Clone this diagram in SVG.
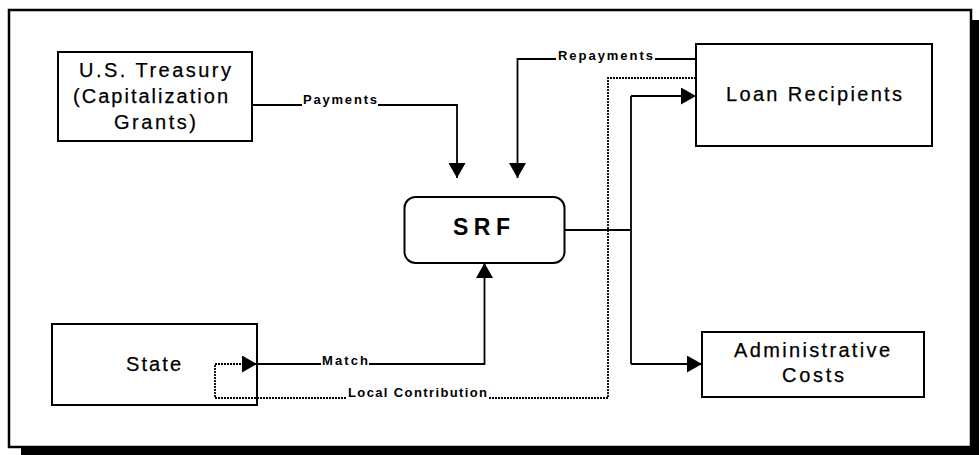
<svg xmlns="http://www.w3.org/2000/svg" width="979" height="455" viewBox="0 0 979 455">
  <style>
    .box { fill: #fff; stroke: #000; stroke-width: 2; }
    .node { font-family: "Liberation Sans", Arial, sans-serif; font-size: 20px; fill: #000; stroke: #000; stroke-width: 0.25; }
    .srf { font-family: "Liberation Sans", Arial, sans-serif; font-size: 23px; font-weight: bold; fill: #000; }
    .lbl { font-family: "Liberation Sans", Arial, sans-serif; font-size: 13px; font-weight: bold; fill: #000; }
    .conn { fill: none; stroke: #000; stroke-width: 1.8; }
    .dot { fill: none; stroke: #000; stroke-width: 1.8; stroke-dasharray: 2 1; }
  </style>
  <defs>
    <marker id="arrow" viewBox="0 0 15 17" refX="15" refY="8.5" markerWidth="15" markerHeight="17" markerUnits="userSpaceOnUse" orient="auto">
      <path d="M0,0 L15,8.5 L0,17 Z" fill="#000" stroke="none"/>
    </marker>
  </defs>

  <rect width="979" height="455" fill="#fff"/>

  <g id="frame">
    <rect x="9" y="10" width="962" height="437" fill="none" stroke="#000" stroke-width="2.5"/>
    <rect x="21" y="447" width="958" height="8" fill="#000"/>
    <rect x="972" y="20" width="7" height="428" fill="#000"/>
  </g>

  <g id="treasury">
    <rect class="box" x="58" y="52" width="194" height="89"/>
    <text class="node" x="79" y="77" textLength="152" lengthAdjust="spacing">U.S. Treasury</text>
    <text class="node" x="73" y="103" textLength="155" lengthAdjust="spacing">(Capitalization</text>
    <text class="node" x="114" y="129" textLength="82" lengthAdjust="spacing">Grants)</text>
  </g>

  <g id="srf">
    <rect class="box" x="404.5" y="197" width="160" height="66" rx="11" ry="11"/>
    <text class="srf" x="453" y="235" textLength="57" lengthAdjust="spacing">SRF</text>
  </g>

  <g id="loan">
    <rect class="box" x="696" y="44" width="236" height="102"/>
    <text class="node" x="726" y="101" textLength="176" lengthAdjust="spacing">Loan Recipients</text>
  </g>

  <g id="state">
    <rect class="box" x="52" y="324" width="205" height="81"/>
    <text class="node" x="126" y="371" textLength="55" lengthAdjust="spacing">State</text>
  </g>

  <g id="admin">
    <rect class="box" x="702" y="332" width="222" height="65"/>
    <text class="node" x="734" y="357" textLength="156" lengthAdjust="spacing">Administrative</text>
    <text class="node" x="782" y="382" textLength="62" lengthAdjust="spacing">Costs</text>
  </g>

  <g id="connectors">
    <path class="conn" d="M252,105 H302 M378,105 H457 V178" marker-end="url(#arrow)"/>
    <path class="conn" d="M696,59 H655 M556,59 H517.5 V178" marker-end="url(#arrow)"/>
    <path class="conn" d="M257,364 H321 M369,364 H484.5 V263" marker-end="url(#arrow)"/>
    <path class="conn" d="M564,230 H631 M631,364 V96"/>
    <path class="conn" d="M631,96 H696" marker-end="url(#arrow)"/>
    <path class="conn" d="M631,364 H702" marker-end="url(#arrow)"/>
    <path class="dot" d="M696,78 H608 V398 H489 M346,398 H215 V364 H257" marker-end="url(#arrow)"/>
    <text class="lbl" x="303" y="104" textLength="74" lengthAdjust="spacing">Payments</text>
    <text class="lbl" x="558" y="60" textLength="95" lengthAdjust="spacing">Repayments</text>
    <text class="lbl" x="322" y="365" textLength="46" lengthAdjust="spacing">Match</text>
    <text class="lbl" x="348" y="397" textLength="139" lengthAdjust="spacing">Local Contribution</text>
  </g>
</svg>
